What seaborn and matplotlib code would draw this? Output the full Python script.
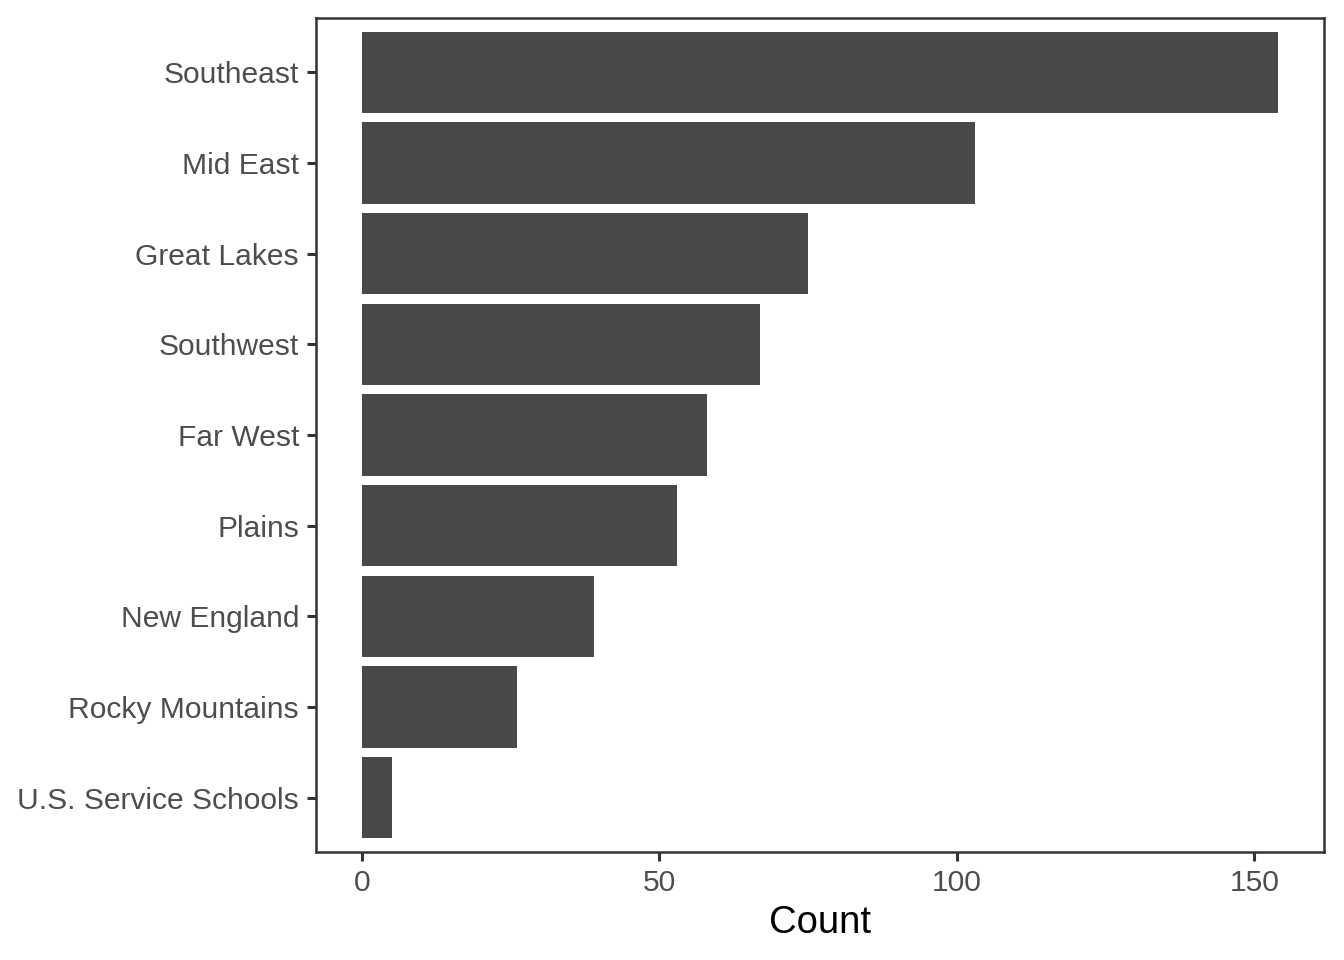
import matplotlib
matplotlib.use("Agg")
import matplotlib.pyplot as plt
import seaborn as sns
import pandas as pd

regions = ["Southeast", "Mid East", "Great Lakes", "Southwest", "Far West",
           "Plains", "New England", "Rocky Mountains", "U.S. Service Schools"]
counts = [154, 103, 75, 67, 58, 53, 39, 26, 5]
x_ticks = [0, 50, 100, 150]

df = pd.DataFrame({"region": regions, "count": counts})

sns.set_theme(style="white")
plt.rcParams["font.family"] = ["Liberation Sans", "DejaVu Sans"]

fig = plt.figure(figsize=(6.72, 4.8), dpi=200)
ax = fig.add_axes([316/1344, 1-852/960, (1324-316)/1344, (852-18)/960])

sns.barplot(data=df, x="count", y="region", order=regions, color="#494949",
            saturation=1, width=0.9, ax=ax, edgecolor="none", linewidth=0)

ax.set_xlim(-0.05*154, 154*1.05)
ax.set_ylim(len(regions)-1+0.6, -0.6)
ax.set_xticks(x_ticks)
ax.set_xticklabels([str(t) for t in x_ticks])
ax.set_xlabel("Count", fontsize=13.75, color="black", labelpad=3)
ax.set_ylabel("")
ax.tick_params(axis="both", which="both", length=3.4, width=1.1,
               color="#333333", labelcolor="#4D4D4D", labelsize=10.8, pad=2.7,
               left=True, bottom=True)
for s in ax.spines.values():
    s.set_visible(True)
    s.set_color("#333333")
    s.set_linewidth(0.9)
ax.grid(False)
ax.set_facecolor("white")
fig.patch.set_facecolor("white")

fig.savefig("out.png", dpi=200)
